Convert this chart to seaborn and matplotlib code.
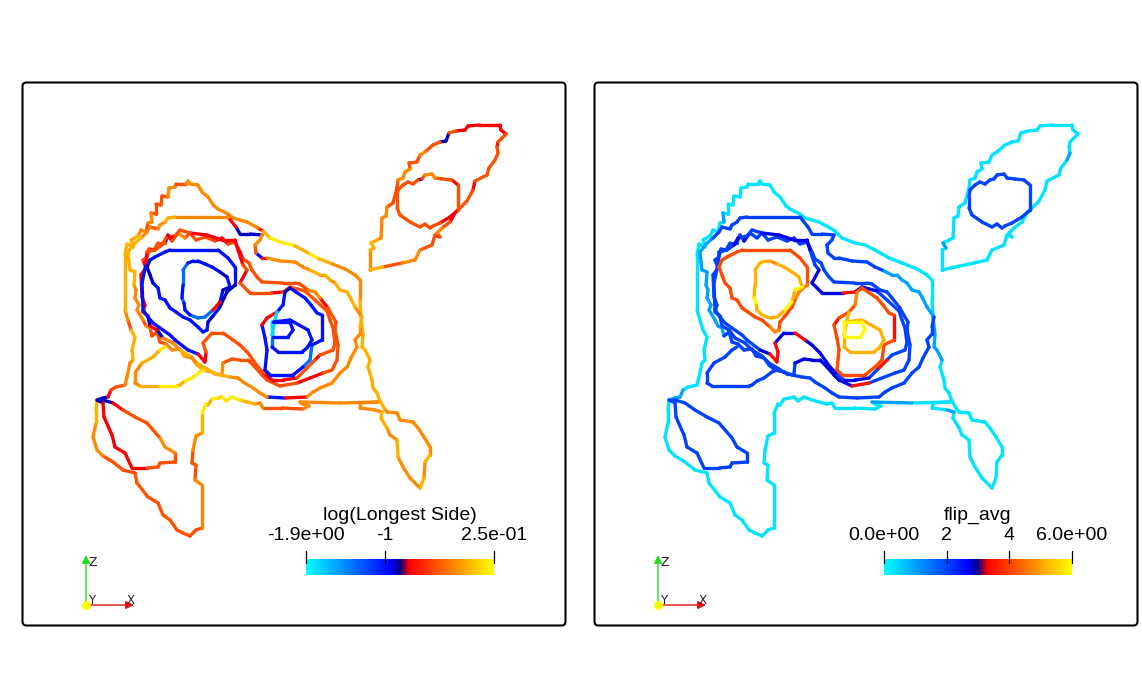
import matplotlib
matplotlib.use("Agg")
import matplotlib.pyplot as plt
from matplotlib.colors import LinearSegmentedColormap
from matplotlib.patches import FancyBboxPatch
import numpy as np
import pandas as pd
import seaborn as sns

# contour vertices in screen units
# colour strings hold one letter per segment, grouped by ten like the vertices
outer_pts = [(125,310),(125,280),(125,255),(127,244),(133,247),(131,240),(138,236),(141,230),(146,232),(148,223),
    (152,222),(151,213),(156,214),(156,204),(161,205),(162,196),(168,197),(169,188),(175,187),(176,184),
    (186,184),(188,181),(190,184),(198,185),(202,192),(208,197),(214,206),(218,209),(228,214),(233,218),
    (247,222),(258,228),(263,231),(270,238),(283,243),(293,245),(303,250),(310,254),(317,258),(330,263),
    (345,269),(355,275),(360,280),(360,300),(361,317),(363,335),(362,347),(365,350),(370,360),(368,367),
    (372,380),(373,388),(377,393),(380,401),(384,408),(387,412),(397,413),(400,420),(413,422),(418,428),
    (424,437),(430,447),(430,455),(425,462),(424,478),(420,488),(410,478),(403,467),(398,457),(397,440),
    (390,435),(387,428),(381,418),(382,412),(375,410),(360,408),(360,403),(378,402),(340,403),(300,402),
    (303,404),(309,406),(303,409),(282,408),(263,408),(260,403),(255,404),(247,402),(240,400),(232,397),
    (226,401),(222,397),(218,398),(212,399),(208,405),(206,404),(202,413),(202,433),(196,436),(193,450),
    (192,463),(196,465),(195,480),(202,485),(202,528),(196,530),(190,536),(183,533),(177,530),(170,520),
    (163,515),(158,503),(148,497),(137,483),(135,473),(123,470),(113,462),(103,456),(97,450),(93,437),
    (96,423),(96,410),(97,400),(103,398),(108,397),(111,390),(116,387),(125,385),(127,377),(130,363),
    (133,360),(132,350),(135,337),(131,330),(128,320),(125,310)]
outer_left = "aaaaaaooto otttttoott oooooooooo orayyaayao oooaaaaaaa aaaaoooooo ooaoaoooao oaaooooooo oottooaayy yayaayaoot ttootttttt tttttttooo aannrttooo aaatoa"
outer_right = "cccccccccc lccccccccc cccccccccc cccccccccc ccccllllcc cccccccccc cccccccccc ccclcccclc cccccccccc cccccccccc cccccccccc cccccccccc cclllccccc cccccc"

ring2_pts = [(128,252),(129,262),(130,270),(135,272),(134,285),(136,290),(135,298),(139,305),(137,310),(143,320),
    (146,326),(150,328),(152,336),(157,332),(160,342),(166,344),(172,350),(180,349),(184,356),(192,358),
    (197,365),(203,370),(212,372),(220,375),(230,377),(238,378),(243,382),(253,388),(260,393),(267,397),
    (285,398),(307,397),(313,392),(320,388),(332,383),(340,373),(347,367),(351,358),(357,347),(355,340),
    (360,334),(360,327),(362,317),(355,307),(350,297),(347,292),(340,290),(335,283),(330,280),(325,275),
    (320,275),(310,270),(303,267),(295,262),(280,261),(267,258),(262,258),(256,253),(255,245),(260,240),
    (262,235),(250,234),(240,234),(236,227),(228,217),(200,217),(175,217),(168,218),(165,222),(160,225),
    (158,229),(150,227),(147,232),(141,238),(134,244),(128,252)]
ring2_left = "aaaaooooot ottttooaoo aoaaooooob rooooooooo oaoaaaaoao aoooorbtoo nnnrooaaoo tooaaa"
ring2_right = "llllllllll llbbbbbbbb bbbbbbbbbb bbbbbbbbbb bbllllllll lbbbbbbbbb bbbbbbbbbb bbblll"

ring3_pts = [(252,270),(249,263),(243,259),(240,252),(238,248),(235,242),(228,244),(222,238),(215,241),(205,237),
    (196,240),(190,233),(185,238),(178,233),(172,241),(168,235),(165,243),(158,243),(154,250),(149,249),
    (147,257),(143,260),(146,268),(141,275),(142,297),(145,305),(143,312),(148,316),(150,326),(157,330),
    (163,338),(173,343),(180,350),(190,356),(197,363),(207,369),(215,374),(222,374),(223,363),(232,359),
    (240,360),(248,360),(255,367),(262,375),(267,380),(280,386),(297,383),(323,373),(332,370),(337,360),
    (338,345),(335,330),(336,322),(330,312),(328,308),(320,298),(315,292),(308,290),(300,284),(295,283),
    (283,283),(262,282),(257,277),(252,270)]
ring3_left = "ttrrttrrtt ttotrnttrt trrrrrrnrn ooaoaaaott ttttttrttt ttttroottt ttt"
ring3_right = "bbbbnbbbbb bbbnbbbbbb bbbbbbbbbb bbbbbbbbnn nnnnnrbbbb bbbbbbbbbb bbb"

ring1_pts = [(143,310),(142,283),(146,264),(147,252),(155,250),(162,245),(166,238),(175,236),(180,230),(190,233),
    (207,235),(222,240),(235,240),(238,250),(243,265),(247,270),(240,283),(250,293),(271,293),(283,292),
    (290,287),(305,291),(315,300),(327,311),(330,320),(333,328),(335,343),(333,350),(320,355),(315,360),
    (307,368),(297,378),(283,380),(272,380),(264,373),(258,367),(248,353),(240,345),(233,340),(223,333),
    (212,333),(203,343),(206,352),(205,362),(198,354),(188,350),(175,340),(170,335),(160,328),(153,323),
    (148,317),(143,310)]
ring1_left = "bbrtttrttr rrrrtrttrt ttttttttrt trrrtttttt ttrrbbbbbb bb"
ring1_right = "bbbbbnbbbn nnnbbnnnrn nbbbbbbbbr bnnbnnnnrn nrrrnbbbbb bb"

lobe_a_pts = [(147,267),(150,275),(153,283),(158,288),(160,298),(165,300),(170,308),(176,312),(183,317),(190,320),
    (198,327),(203,332),(207,330),(208,322),(213,316),(220,307),(224,298),(227,292),(235,285),(235,267),
    (228,258),(218,250),(190,250),(170,250),(165,252),(155,257),(150,260),(147,267)]
lobe_a_left = "nnbbbbbbbb bbbnbnnnbb bbbbbbnn"
lobe_a_right = "tttttttttt oottttoott tttttttt"

lobe_b_pts = [(183,270),(188,263),(193,261),(198,261),(205,264),(212,267),(220,272),(227,277),(230,287),(223,290),
    (220,302),(213,310),(205,317),(198,318),(190,315),(185,310),(184,303),(182,298),(183,285),(183,270)]
lobe_b_left = "lbbbbbnbnb rlllbblbll"
lobe_b_right = "aaaoaaaaya yaaaaayaaa"

right_a_pts = [(285,292),(290,288),(296,292),(305,298),(311,305),(317,313),(322,315),(322,340),(312,345),(310,360),
    (303,367),(293,375),(270,375),(265,370),(267,350),(265,338),(262,325),(267,318),(277,312),(283,305),(285,292)]
right_a_left = "nbbbbbbbll bbbbbbrrbbb"
right_a_right = "ttttttrttt ttttttrttoo"

right_b_pts = [(277,312),(275,320),(272,335),(272,347),(278,352),(302,352),(307,348),(312,340),(308,330),(290,320),(273,322)]
right_b_left = "cclbbbbbbb l"
right_b_right = "aaaaaaaaaa a"

right_c_pts = [(273,322),(290,322),(293,330),(288,337),(273,337),(272,322)]
right_c_left = "bbbbc"
right_c_right = "yyyyy"

tri_pts = [(205,370),(200,372),(192,378),(185,381),(180,385),(177,386),(160,386),(140,386),(135,383),(135,373),(142,363),(153,357),(160,350),(165,347)]
tri_left = "yyyaayaooo aayy"
tri_right = "bbbbbbbbbb bbbb"

toe_pts = [(97,400),(103,403),(104,417),(112,435),(115,447),(125,453),(132,468),(147,468),(158,467),(160,463),
    (175,462),(175,453),(165,447),(160,438),(147,423),(135,417),(123,410),(113,403),(103,400),(97,400)]
toe_left = "nrrrrrrttt tootttrnbn"
toe_right = "bbbbbbbbbb bbbbbbbbbb"

leaf_pts = [(370,270),(370,250),(374,248),(371,243),(377,240),(381,238),(382,218),(386,216),(387,207),(393,203),
    (397,188),(398,180),(403,178),(405,172),(410,169),(409,163),(417,162),(420,155),(425,152),(433,145),
    (440,142),(446,141),(449,133),(456,131),(465,130),(468,126),(480,125),(500,125),(501,130),(506,134),
    (502,138),(498,142),(497,147),(498,153),(495,160),(489,168),(487,175),(475,181),(473,190),(467,201),
    (455,213),(450,222),(442,228),(437,233),(440,237),(435,235),(432,245),(420,250),(415,260),(402,263),
    (383,267),(370,270)]
leaf_left = "oaaaoooott toootttott nntrrrrrrt trtttttrtt rtotrttoot aa"
leaf_right = "cclccccccc cccccccccc cccccccccc ccclcccccc cccccccccc cc"

eye_pts = [(398,190),(403,185),(408,182),(413,184),(418,180),(422,179),(425,175),(432,174),(435,178),(443,179),
    (452,180),(458,185),(458,210),(450,217),(440,223),(433,226),(430,228),(425,224),(420,227),(410,222),
    (400,215),(397,208),(397,197),(398,190)]
eye_left = "ttttntoott rtrrtttttt tttt"
eye_right = "bbbbbbbbbb bbbbbbbbbb bbbb"

curves = [
    (outer_pts, outer_left, outer_right),
    (ring2_pts, ring2_left, ring2_right),
    (tri_pts, tri_left, tri_right),
    (ring3_pts, ring3_left, ring3_right),
    (ring1_pts, ring1_left, ring1_right),
    (lobe_a_pts, lobe_a_left, lobe_a_right),
    (lobe_b_pts, lobe_b_left, lobe_b_right),
    (right_a_pts, right_a_left, right_a_right),
    (right_b_pts, right_b_left, right_b_right),
    (right_c_pts, right_c_left, right_c_right),
    (toe_pts, toe_left, toe_right),
    (leaf_pts, leaf_left, leaf_right),
    (eye_pts, eye_left, eye_right),
]

# field value behind each colour letter, per panel
left_levels = {"c": -1.75, "l": -1.35, "b": -1.0, "n": -0.88, "r": -0.72, "t": -0.42, "o": -0.2, "a": -0.05, "y": 0.17}
right_levels = {"c": 0.3, "l": 1.0, "b": 2.0, "n": 2.75, "r": 3.4, "t": 4.1, "o": 4.7, "a": 5.2, "y": 5.95}

left_range = (-1.9, 0.25)
right_range = (0.0, 6.0)
left_ticks = ["-1.9e+00", "-1", "2.5e-01"]
left_tick_vals = [-1.9, -1.0, 0.25]
right_ticks = ["0.0e+00", "2", "4", "6.0e+00"]
right_tick_vals = [0.0, 2.0, 4.0, 6.0]

sns.set_theme(style="white")
plt.rcParams["font.family"] = ["Liberation Sans", "DejaVu Sans"]

W, H = 1142, 692
cold_hot = LinearSegmentedColormap.from_list("cold_hot", [(0, (0, 1, 1)), (0.45, (0, 0, 1)), (0.5, (0, 0, 0.5)), (0.55, (1, 0, 0)), (1, (1, 1, 0))])


def px_axes(fig, x0, y0, x1, y1):
    return fig.add_axes([x0 / W, 1 - y1 / H, (x1 - x0) / W, (y1 - y0) / H])


def segments(pts, letters, levels):
    letters = letters.replace(" ", "")
    letters = letters + letters[-1] * len(pts)
    rows = []
    for i in range(len(pts) - 1):
        rows.append((i, pts[i][0], pts[i][1], levels[letters[i]]))
        rows.append((i, pts[i + 1][0], pts[i + 1][1], levels[letters[i]]))
    return pd.DataFrame(rows, columns=["seg", "x", "y", "value"])


def panel(fig, x0, col, levels, rng, title, ticks, tick_vals, cx):
    ax = px_axes(fig, x0, 82, x0 + 544, 626)
    for c in curves:
        frame = segments(c[0], c[col], levels)
        sns.lineplot(data=frame, x="x", y="y", hue="value", units="seg", estimator=None, sort=False,
                     palette=cold_hot, hue_norm=rng, legend=False, linewidth=2.4, ax=ax, solid_capstyle="round")
    ax.set_xlim(22, 566)
    ax.set_ylim(626, 82)
    ax.set_xticks([])
    ax.set_yticks([])
    ax.set_xlabel("")
    ax.set_ylabel("")
    for s in ax.spines.values():
        s.set_visible(False)
    ax.add_patch(FancyBboxPatch((22.5, 82.5), 543, 543, boxstyle="round,pad=0,rounding_size=4",
                                fc="none", ec="black", lw=1.5, clip_on=False))

    # colour bar
    cax = px_axes(fig, x0 - 22 + cx, 559, x0 - 22 + cx + 188, 575)
    sns.heatmap(np.linspace(0, 1, 256).reshape(1, -1), cmap=cold_hot, vmin=0, vmax=1, cbar=False,
                xticklabels=False, yticklabels=False, ax=cax)
    for lab, v in zip(ticks, tick_vals):
        tx = cx + (v - rng[0]) / (rng[1] - rng[0]) * 188
        ax.plot([tx, tx], [551, 563], color="black", lw=0.9, clip_on=False, zorder=6)
        ax.text(tx, 536, lab, ha="center", va="center", fontsize=14, color="black")
    ax.text(cx + 94, 515, title, ha="center", va="center", fontsize=14, color="black")
    cax.set_zorder(ax.get_zorder() - 1)
    ax.patch.set_alpha(0)

    # orientation triad
    ax.annotate("", xy=(86, 555), xytext=(86, 605), arrowprops=dict(arrowstyle="-|>", color="#22dd22", lw=1, shrinkA=0, shrinkB=0))
    ax.annotate("", xy=(134, 605), xytext=(86, 605), arrowprops=dict(arrowstyle="-|>", color="#dd1111", lw=1, shrinkA=0, shrinkB=0))
    ax.plot([86], [605], "o", color="yellow", ms=5.5, zorder=7)
    ax.text(92.5, 562, "Z", fontsize=9, ha="center", va="center", family="DejaVu Sans", color="#222222")
    ax.text(92, 601, "Y", fontsize=8.5, ha="center", va="center", family="DejaVu Sans", color="#222222")
    ax.text(131, 600, "X", fontsize=8.5, ha="center", va="center", family="DejaVu Sans", color="#222222")
    return ax


fig = plt.figure(figsize=(W / 100, H / 100), dpi=100)
panel(fig, 22, 1, left_levels, left_range, "log(Longest Side)", left_ticks, left_tick_vals, 306)
panel(fig, 594, 2, right_levels, right_range, "flip_avg", right_ticks, right_tick_vals, 312)
fig.savefig("out.png", dpi=100)
